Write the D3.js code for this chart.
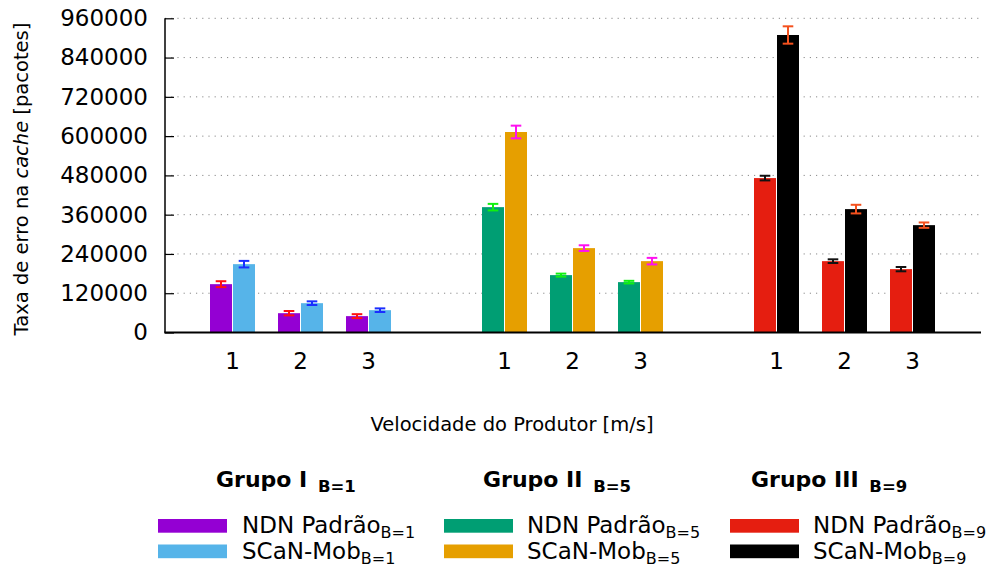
<!DOCTYPE html>
<html>
<head>
<meta charset="utf-8">
<script src="https://cdn.jsdelivr.net/npm/d3@7"></script>
<style>
  html, body { margin: 0; padding: 0; background: #fff; }
  svg { display: block; font-family: "DejaVu Sans", sans-serif; }
</style>
</head>
<body>
<svg id="chart" width="989" height="567"></svg>
<script>
// ---------- data ----------
const categories = ["1", "2", "3"];
const yTicks = [0, 120000, 240000, 360000, 480000, 600000, 720000, 840000, 960000];

const ndnB1 = [147700, 59000, 50000];
const ndnB1Err = [9000, 6700, 6000];
const scanB1 = [208800, 89600, 68200];
const scanB1Err = [10000, 5600, 5500];

const ndnB5 = [383000, 175300, 153900];
const ndnB5Err = [10000, 4600, 4000];
const scanB5 = [612600, 257800, 218000];
const scanB5Err = [19400, 8700, 10000];

const ndnB9 = [471800, 218000, 193600];
const ndnB9Err = [7100, 5600, 6600];
const scanB9 = [909000, 377000, 328000];
const scanB9Err = [26500, 13200, 8200];

const groupTitles = [["Grupo I ", "B=1"], ["Grupo II ", "B=5"], ["Grupo III ", "B=9"]];

// group definitions (built from arrays above)
const groups = [
  { slot0: 1, title: groupTitles[0], sub: "B=1",
    a: { name: "NDN Padrão", vals: ndnB1, err: ndnB1Err, color: "#9400d3", errColor: "#ff1010" },
    b: { name: "SCaN-Mob", vals: scanB1, err: scanB1Err, color: "#56b4e9", errColor: "#1a2eff" } },
  { slot0: 5, title: groupTitles[1], sub: "B=5",
    a: { name: "NDN Padrão", vals: ndnB5, err: ndnB5Err, color: "#009e73", errColor: "#10f010" },
    b: { name: "SCaN-Mob", vals: scanB5, err: scanB5Err, color: "#e69f00", errColor: "#ff10f0" } },
  { slot0: 9, title: groupTitles[2], sub: "B=9",
    a: { name: "NDN Padrão", vals: ndnB9, err: ndnB9Err, color: "#e51e10", errColor: "#111111" },
    b: { name: "SCaN-Mob", vals: scanB9, err: scanB9Err, color: "#000000", errColor: "#f4511e" } }
];

// ---------- layout ----------
const svg = d3.select("#chart");
const x = d3.scaleLinear().domain([0, 12]).range([165, 981]);
const y = d3.scaleLinear().domain([0, 960000]).range([332.5, 18.3]);
const slotW = x(1) - x(0);
const bw = slotW * 0.3235;

// grid lines
svg.append("g").selectAll("line").data(yTicks.filter(d => d > 0)).join("line")
  .attr("x1", x(0)).attr("x2", x(12))
  .attr("y1", d => y(d)).attr("y2", d => y(d))
  .attr("stroke", "#8a8a8a").attr("stroke-width", 1)
  .attr("stroke-dasharray", "1.2 5");

// bars
groups.forEach(g => {
  categories.forEach((c, i) => {
    const cx = x(g.slot0 + i);
    const bars = [
      { s: g.a, x0: cx - bw - 1 },
      { s: g.b, x0: cx }
    ];
    bars.forEach(b => {
      svg.append("rect")
        .attr("x", b.x0).attr("width", bw)
        .attr("y", y(b.s.vals[i])).attr("height", y(0) - y(b.s.vals[i]))
        .attr("fill", b.s.color);
    });
    bars.forEach(b => {
      const mx = b.x0 + bw / 2;
      const v = b.s.vals[i], e = b.s.err[i];
      const eg = svg.append("g").attr("stroke", b.s.errColor).attr("stroke-width", 2);
      eg.append("line").attr("x1", mx).attr("x2", mx).attr("y1", y(v + e)).attr("y2", y(v - e));
      eg.append("line").attr("x1", mx - 5.3).attr("x2", mx + 5.3).attr("y1", y(v + e)).attr("y2", y(v + e));
      eg.append("line").attr("x1", mx - 5.3).attr("x2", mx + 5.3).attr("y1", y(v - e)).attr("y2", y(v - e));
    });
  });
});

// y axis
const yAxis = d3.axisLeft(y).tickValues(yTicks).tickSize(-9).tickPadding(17).tickFormat(d3.format("d"));
const ya = svg.append("g").attr("transform", `translate(${x(0)},0)`).call(yAxis);
ya.select(".domain").remove();
ya.selectAll(".tick line").attr("stroke", "#000").attr("stroke-width", 1.2);
ya.selectAll("text").attr("font-size", 23).attr("font-family", "DejaVu Sans").attr("fill", "#000");
svg.append("line").attr("x1", x(0)).attr("x2", x(0)).attr("y1", y(960000)).attr("y2", y(0))
  .attr("stroke", "#000").attr("stroke-width", 1.5);

// x axis line
svg.append("line").attr("x1", x(0) - 0.75).attr("x2", x(12)).attr("y1", y(0)).attr("y2", y(0))
  .attr("stroke", "#000").attr("stroke-width", 2);

// x tick labels
groups.forEach(g => {
  svg.append("g").selectAll("text").data(categories).join("text")
    .attr("x", (d, i) => x(g.slot0 + i) - 0.5).attr("y", 368.5)
    .attr("text-anchor", "middle").attr("font-size", 23).attr("fill", "#000")
    .text(d => d);
});

// axis titles
svg.append("text").attr("x", 512).attr("y", 431).attr("text-anchor", "middle")
  .attr("font-size", 19.5).attr("fill", "#000").text("Velocidade do Produtor [m/s]");

const yl = svg.append("text").attr("transform", "translate(28,179) rotate(-90)")
  .attr("text-anchor", "middle").attr("font-size", 19.5).attr("fill", "#000");
yl.append("tspan").text("Taxa de erro na ");
yl.append("tspan").attr("font-style", "italic").text("cache");
yl.append("tspan").text(" [pacotes]");

// legend
const legX = [{ title: 216, sw: 158, txt: 242 }, { title: 483, sw: 444, txt: 527 }, { title: 751, sw: 730, txt: 813 }];
groups.forEach((g, gi) => {
  const L = legX[gi];
  const t = svg.append("text").attr("x", L.title).attr("y", 487)
    .attr("font-weight", "bold").attr("font-size", 22).attr("fill", "#000");
  t.append("tspan").text(g.title[0]);
  t.append("tspan").attr("font-size", 16.5).attr("dx", 3).attr("dy", 5).text(g.title[1]);

  [g.a, g.b].forEach((s, si) => {
    const top = 519 + si * 25.5;
    svg.append("rect").attr("x", L.sw).attr("y", top).attr("width", 69).attr("height", 13.7).attr("fill", s.color);
    const tt = svg.append("text").attr("x", L.txt).attr("y", top + 14).attr("font-size", 23).attr("fill", "#000");
    tt.append("tspan").text(s.name);
    tt.append("tspan").attr("font-size", 16).attr("dy", 5).text(g.sub);
  });
});
</script>
</body>
</html>
